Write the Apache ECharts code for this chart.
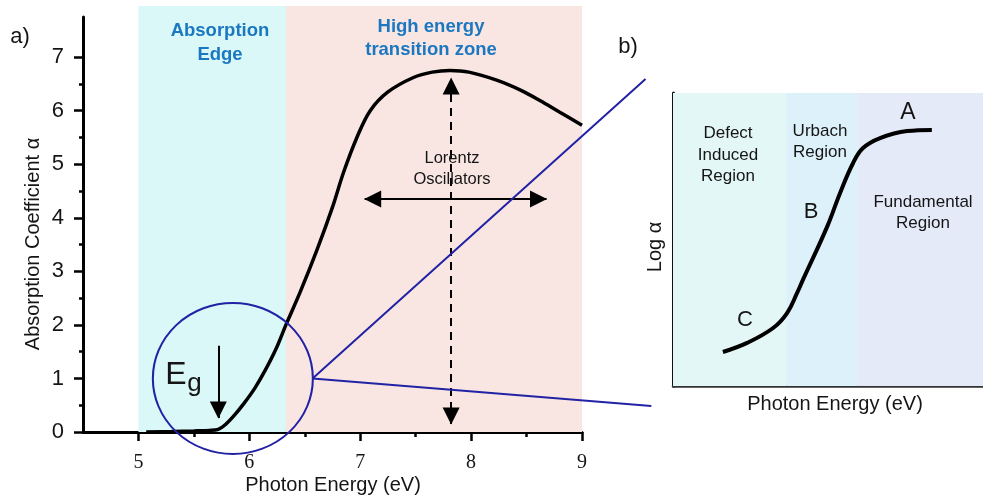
<!DOCTYPE html>
<html>
<head>
<meta charset="utf-8">
<script src="https://cdn.jsdelivr.net/npm/echarts@6/dist/echarts.min.js"></script>
<style>
  html, body { margin: 0; padding: 0; background: #ffffff; }
  #chart { width: 983px; height: 502px; }
</style>
</head>
<body>
<div id="chart"></div>
<script>
// Panel a: absorption coefficient vs photon energy (eV)
const energy = [5.07, 5.3, 5.5, 5.64, 5.72, 5.78, 5.86, 5.95, 6.05, 6.14, 6.24, 6.33, 6.46, 6.61, 6.75, 6.85, 6.97, 7.09, 7.25, 7.48, 7.65, 7.81, 7.98, 8.23, 8.45, 8.62, 8.8, 9.0];
const absorption = [0.0, 0.01, 0.02, 0.03, 0.05, 0.13, 0.3, 0.53, 0.82, 1.14, 1.55, 2.0, 2.62, 3.4, 4.2, 4.85, 5.5, 6.0, 6.35, 6.62, 6.72, 6.75, 6.72, 6.57, 6.38, 6.19, 5.97, 5.73];

// Shaded zones (eV)
const edgeZone = [5.0, 6.33];
const highZone = [6.33, 9.0];

// Tick values
const xMajorTicks = [5, 6, 7, 8, 9];
const xMinorTicks = [5.5, 6.5, 7.5, 8.5];
const yMajorTicks = [0, 1, 2, 3, 4, 5, 6, 7];
const yMinorTicks = [0.5, 1.5, 2.5, 3.5, 4.5, 5.5, 6.5];

// Annotations in data units
const gapEnergy = 5.72;           // Eg arrow
const gapArrow = [1.61, 0.26];
const lorentzCenter = 7.82;       // vertical double arrow
const lorentzVertical = [0.15, 6.61];
const lorentzLevel = 4.35;        // horizontal double arrow
const lorentzHorizontal = [7.04, 8.68];
const zoomCircle = [5.85, 1.0];
const zoomLines = [[9.568, 6.59], [6.568, 1.0], [9.62, 0.486]];

// Panel b: log(alpha) sketch, arbitrary units 0-100
const insetEnergy = [16.1, 23.9, 32.3, 36.8, 40.0, 41.9, 49.7, 53.9, 58.1, 61.3, 66.8, 75.5, 83.5];
const insetLogAlpha = [11.6, 14.7, 19.8, 24.9, 31.7, 36.2, 54.3, 65.9, 76.1, 81.2, 84.6, 87.0, 87.4];
const defectZone = [0, 36.5];
const urbachZone = [36.5, 59.4];
const fundamentalZone = [59.4, 100];

const SANS = '"Liberation Sans", Arial, sans-serif';
const SERIF = '"Liberation Serif", "Times New Roman", serif';
const INK = '#151515';
const ZONE_BLUE = '#1b78c0';
const LINK_BLUE = '#2222a4';

const zip = (a, b) => a.map((v, i) => [v, b[i]]);

function text(x, y, str, size, opts) {
  opts = opts || {};
  return {
    type: 'text', x: x, y: y, rotation: opts.rotation || 0, z: 100, silent: true,
    style: {
      text: str,
      font: (opts.weight || 'normal') + ' ' + size + 'px ' + (opts.family || SANS),
      fill: opts.color || INK,
      align: 'center', verticalAlign: 'middle',
      lineHeight: opts.lineHeight || Math.round(size * 1.25)
    }
  };
}

const chart = echarts.init(document.getElementById('chart'), null, { renderer: 'canvas' });

const hidden = { show: false };
const bare = { axisLine: hidden, axisTick: hidden, axisLabel: hidden, splitLine: hidden };

// main plot scale: 111 px per eV from 4.5 eV; the overlay grid extends it to 9.7 eV
const option = {
  backgroundColor: '#ffffff',
  animation: false,
  grid: [
    { left: 83, top: 6, width: 499, height: 426 },    // zone backdrop
    { left: 83, top: 17, width: 499, height: 415 },   // main plot
    { left: 673, top: 93, right: 0, height: 293 },    // inset
    { left: 83, top: 17, width: 577.2, height: 415 }  // magnifier overlay
  ],
  xAxis: [
    Object.assign({ gridIndex: 0, type: 'value', min: 4.5, max: 9 }, bare),
    {
      gridIndex: 1, type: 'value', min: 4.5, max: 9, position: 'bottom',
      axisLine: { show: true, onZero: false, lineStyle: { color: '#000', width: 3 } },
      axisTick: { show: true, customValues: xMajorTicks, length: 9, lineStyle: { color: '#000', width: 2.5 } },
      axisLabel: { show: true, customValues: xMajorTicks, margin: 21, fontFamily: SERIF, fontSize: 20, color: INK },
      splitLine: hidden
    },
    {
      gridIndex: 1, type: 'value', min: 4.5, max: 9, position: 'bottom',
      axisLine: hidden,
      axisTick: { show: true, customValues: xMinorTicks, length: 5, lineStyle: { color: '#000', width: 2.5 } },
      axisLabel: hidden, splitLine: hidden
    },
    { gridIndex: 2, type: 'value', min: 0, max: 100,
      axisLine: { show: true, onZero: false, lineStyle: { color: '#333', width: 2.5 } },
      axisTick: hidden, axisLabel: hidden, splitLine: hidden },
    Object.assign({ gridIndex: 3, type: 'value', min: 4.5, max: 9.7 }, bare)
  ],
  yAxis: [
    Object.assign({ gridIndex: 0, type: 'value', min: 0, max: 1 }, bare),
    {
      gridIndex: 1, type: 'value', min: 0, max: 7.75, position: 'left',
      axisLine: { show: true, onZero: false, lineStyle: { color: '#000', width: 3 } },
      axisTick: { show: true, customValues: yMajorTicks, length: 9, lineStyle: { color: '#000', width: 2.5 } },
      axisLabel: { show: true, customValues: yMajorTicks, margin: 19, fontFamily: SANS, fontSize: 22, color: INK },
      splitLine: hidden
    },
    {
      gridIndex: 1, type: 'value', min: 0, max: 7.75, position: 'left',
      axisLine: hidden,
      axisTick: { show: true, customValues: yMinorTicks, length: 4, lineStyle: { color: '#000', width: 2.5 } },
      axisLabel: hidden, splitLine: hidden
    },
    { gridIndex: 2, type: 'value', min: 0, max: 100,
      axisLine: { show: true, onZero: false, lineStyle: { color: '#111', width: 3 } },
      axisTick: hidden, axisLabel: hidden, splitLine: hidden },
    Object.assign({ gridIndex: 3, type: 'value', min: 0, max: 7.75 }, bare)
  ],
  series: [
    {
      // coloured energy zones
      type: 'line', xAxisIndex: 0, yAxisIndex: 0, data: [], silent: true, z: 0,
      markArea: {
        silent: true,
        data: [
          [{ xAxis: edgeZone[0], itemStyle: { color: '#d9f8f7' } }, { xAxis: edgeZone[1] }],
          [{ xAxis: highZone[0], itemStyle: { color: '#f9e6e3' } }, { xAxis: highZone[1] }]
        ]
      }
    },
    {
      // absorption curve
      type: 'line', xAxisIndex: 1, yAxisIndex: 1, z: 5,
      data: zip(energy, absorption),
      smooth: 0.35, showSymbol: false, symbol: 'none',
      lineStyle: { color: '#000', width: 3.5 }
    },
    {
      // magnifier circle around the band gap
      type: 'scatter', xAxisIndex: 4, yAxisIndex: 4, z: 6, silent: true,
      data: [zoomCircle],
      symbol: 'circle', symbolSize: [160, 151],
      itemStyle: { color: 'rgba(0,0,0,0)', borderColor: LINK_BLUE, borderWidth: 2, opacity: 1 }
    },
    {
      // connector lines to the inset
      type: 'line', xAxisIndex: 4, yAxisIndex: 4, z: 6, silent: true,
      data: zoomLines, symbol: 'none', showSymbol: false,
      lineStyle: { color: LINK_BLUE, width: 2 }
    },
    {
      // arrows
      type: 'line', xAxisIndex: 1, yAxisIndex: 1, z: 7, data: [],
      markLine: {
        silent: true, animation: false,
        label: { show: false },
        symbolSize: [17, 17],
        data: [
          [
            { coord: [gapEnergy, gapArrow[0]], symbol: 'none' },
            { coord: [gapEnergy, gapArrow[1]], symbol: 'triangle', symbolOffset: [0, 8] }
          ],
          [
            { coord: [lorentzCenter, lorentzVertical[0]], symbol: 'triangle', symbolOffset: [0, 8] },
            { coord: [lorentzCenter, lorentzVertical[1]], symbol: 'triangle', symbolOffset: [0, 8], lineStyle: { type: [8, 6] } }
          ],
          [
            { coord: [lorentzHorizontal[0], lorentzLevel], symbol: 'triangle', symbolOffset: [0, 8] },
            { coord: [lorentzHorizontal[1], lorentzLevel], symbol: 'triangle', symbolOffset: [0, 8] }
          ]
        ],
        lineStyle: { color: '#000', width: 2, type: 'solid' }
      }
    },
    {
      // inset regions and curve
      type: 'line', xAxisIndex: 3, yAxisIndex: 3, z: 5,
      data: zip(insetEnergy, insetLogAlpha),
      smooth: 0.4, showSymbol: false, symbol: 'none',
      lineStyle: { color: '#000', width: 4 },
      markArea: {
        silent: true,
        data: [
          [{ xAxis: defectZone[0], itemStyle: { color: '#e3f7f6' } }, { xAxis: defectZone[1] }],
          [{ xAxis: urbachZone[0], itemStyle: { color: '#ddf1fb' } }, { xAxis: urbachZone[1] }],
          [{ xAxis: fundamentalZone[0], itemStyle: { color: '#e4eaf8' } }, { xAxis: fundamentalZone[1] }]
        ]
      }
    }
  ],
  graphic: [
    text(20, 37, 'a)', 22),
    text(628, 47, 'b)', 22),
    text(220, 43, 'Absorption\nEdge', 18.5, { weight: 'bold', color: ZONE_BLUE, lineHeight: 24 }),
    text(431, 38.5, 'High energy\ntransition zone', 18.5, { weight: 'bold', color: ZONE_BLUE, lineHeight: 23 }),
    text(452, 168.5, 'Lorentz\nOscillators', 16.5, { lineHeight: 21 }),
    text(176, 375, 'E', 32),
    text(194.5, 383.5, 'g', 26),
    text(333, 485, 'Photon Energy (eV)', 20),
    text(33, 244, 'Absorption Coefficient \u03b1', 20, { rotation: Math.PI / 2 }),
    text(728, 155, 'Defect\nInduced\nRegion', 17, { lineHeight: 21.5 }),
    text(820, 141.5, 'Urbach\nRegion', 17, { lineHeight: 21 }),
    text(923, 212.5, 'Fundamental\nRegion', 17, { lineHeight: 21 }),
    text(908, 113, 'A', 23),
    text(811, 212, 'B', 22),
    text(745, 320, 'C', 22),
    text(655, 247, 'Log \u03b1', 20, { rotation: Math.PI / 2 }),
    text(835, 404, 'Photon Energy (eV)', 20)
  ]
};

chart.setOption(option);
</script>
</body>
</html>
